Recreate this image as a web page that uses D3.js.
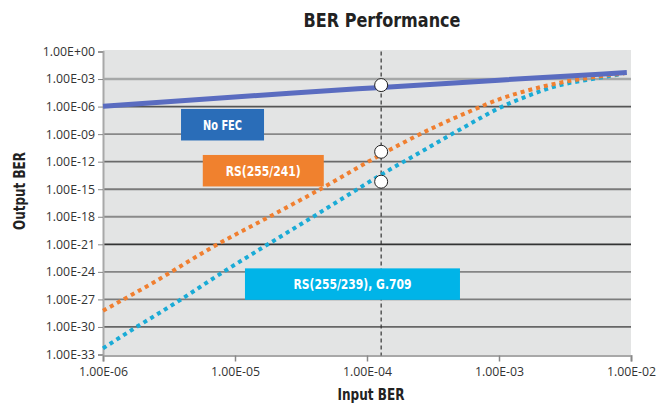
<!DOCTYPE html>
<html>
<head>
<meta charset="utf-8">
<script src="https://d3js.org/d3.v7.min.js"></script>
<style>
  body { margin: 0; background: #fff; }
</style>
</head>
<body>
<div id="chart"></div>
<script>

// ---- data ----
// No FEC (uncoded) curve
var noFecIn  = [1e-6, 2.6e-5, 1.28e-4, 1e-3, 9.3e-3];
var noFecOut = [1.1e-6, 2.9e-5, 1.23e-4, 7.6e-4, 5.1e-3];

// RS(255/241)
var rs241In  = [1e-6, 2.3e-6, 7.2e-6, 1.9e-5, 4.3e-5, 1.1e-4, 1.8e-4, 3.3e-4, 6.1e-4, 1.0e-3, 1.5e-3, 2.9e-3, 4.9e-3, 8.9e-3];
var rs241Out = [5.8e-29, 4.7e-26, 8.3e-22, 1.4e-18, 8.1e-16, 1.8e-12, 8.3e-11, 6.5e-9, 3.3e-7, 6.2e-6, 3.9e-5, 4.0e-4, 1.4e-3, 4.3e-3];

// RS(255/239), G.709
var rs239In  = [1e-6, 1.74e-6, 3.5e-6, 8.6e-6, 1.74e-5, 3.9e-5, 1.4e-4, 2.8e-4, 5.7e-4, 1.03e-3, 1.7e-3, 2.9e-3, 4.6e-3, 8.3e-3];
var rs239Out = [4.7e-33, 7.6e-31, 3.7e-28, 1.6e-24, 8.3e-22, 1.0e-18, 8.1e-14, 2.4e-11, 8.3e-9, 8.3e-7, 1.7e-5, 2.2e-4, 7.9e-4, 3.3e-3];

// operating point marked with the dashed line and circles
var markIn   = 1.28e-4;
var markOuts = [2.2e-4, 1.2e-11, 6.6e-15];

// axis ticks
var xTicks = [1e-6, 1e-5, 1e-4, 1e-3, 1e-2];
var yTicks = [1e0, 1e-3, 1e-6, 1e-9, 1e-12, 1e-15, 1e-18, 1e-21, 1e-24, 1e-27, 1e-30, 1e-33];

// in-chart labels (anchored at top-left corner in data units)
var labelNames = ["No FEC", "RS(255/241)", "RS(255/239), G.709"];
var labelIn    = [3.9e-6, 5.7e-6, 1.19e-5];
var labelOut   = [5.5e-7, 5.4e-12, 2.4e-24];

// ---- layout ----
var W = 656, H = 405;
var margin = {top: 51.5, right: 25, bottom: 50.5, left: 103},
    width = W - margin.left - margin.right,
    height = H - margin.top - margin.bottom;

var condensed = "'DejaVu Sans Condensed', 'DejaVu Sans', sans-serif";
var tickFont = "'Open Sans', 'DejaVu Sans', sans-serif";

var svg0 = d3.select("#chart")
  .append("svg")
    .attr("width", W)
    .attr("height", H);

var svg = svg0.append("g")
    .attr("transform", "translate(" + margin.left + "," + margin.top + ")");

var x = d3.scaleLog().domain([1e-6, 1e-2]).range([0, width]);
var y = d3.scaleLog().domain([1e-33, 1]).range([height, 0]);

function fmtE(v) {
  var e = Math.round(Math.log10(v));
  var s = e < 0 ? "-" : "+";
  var a = Math.abs(e);
  return "1.00E" + s + (a < 10 ? "0" + a : a);
}

// plot background
svg.append("rect")
  .attr("x", 0).attr("y", -1.5)
  .attr("width", width).attr("height", height + 3)
  .attr("fill", "#e3e4e4");

// horizontal grid (shades vary a little in the original)
var gridColor = ["#a6a8a8", "#555", "#888", "#6a6a6a", "#7a7a7a", "#8a8a8a", "#333", "#858585", "#7c7c7c", "#666"];
svg.selectAll(".grid")
  .data(yTicks.filter(function(d) { return d < 1 && d > 1e-33; }))
  .enter().append("line")
    .attr("x1", 0).attr("x2", width)
    .attr("y1", function(d) { return y(d); })
    .attr("y2", function(d) { return y(d); })
    .attr("stroke", function(d, i) { return gridColor[i]; })
    .attr("stroke-width", function(d, i) { return i == 0 ? 2.5 : 1.8; });

// Y axis
var yAxis = svg.append("g")
  .call(d3.axisLeft(y).tickValues(yTicks).tickFormat(fmtE).tickSize(5).tickPadding(3));
yAxis.select(".domain").attr("stroke", "#a8a8a8").attr("stroke-width", 2);
yAxis.selectAll(".tick line").attr("stroke", "#888");
yAxis.selectAll("text")
  .attr("font-family", tickFont).attr("font-size", "12.3px").attr("fill", "#333");

// X axis
var xAxis = svg.append("g")
  .attr("transform", "translate(0," + (height + 1) + ")")
  .call(d3.axisBottom(x).tickValues(xTicks).tickFormat(fmtE).tickSize(6).tickPadding(6));
xAxis.select(".domain").attr("stroke", "#a8a8a8").attr("stroke-width", 2);
xAxis.selectAll(".tick line").attr("stroke", "#888").attr("stroke-width", 1.5);
xAxis.selectAll("text")
  .attr("font-family", tickFont).attr("font-size", "12.3px").attr("fill", "#333");

// dashed marker line
svg.append("line")
  .attr("x1", x(markIn)).attr("x2", x(markIn))
  .attr("y1", 0).attr("y2", height + 1)
  .attr("stroke", "#333")
  .attr("stroke-width", 1.2)
  .attr("stroke-dasharray", "4,3");

var line = d3.line()
  .x(function(d) { return x(d[0]); })
  .y(function(d) { return y(d[1]); })
  .curve(d3.curveMonotoneX);

// RS(255/239) dotted
svg.append("path")
  .datum(d3.zip(rs239In, rs239Out))
  .attr("fill", "none")
  .attr("stroke", "#1aabd6")
  .attr("stroke-width", 4)
  .attr("stroke-dasharray", "4,4")
  .attr("d", line);

// RS(255/241) dotted
svg.append("path")
  .datum(d3.zip(rs241In, rs241Out))
  .attr("fill", "none")
  .attr("stroke", "#f07f30")
  .attr("stroke-width", 4)
  .attr("stroke-dasharray", "4,4")
  .attr("d", line);

// No FEC thick line
svg.append("path")
  .datum(d3.zip(noFecIn, noFecOut))
  .attr("fill", "none")
  .attr("stroke", "#5a6cc0")
  .attr("stroke-width", 5)
  .attr("d", line);

// circles at the operating point
svg.selectAll(".mark")
  .data(markOuts)
  .enter().append("circle")
    .attr("cx", x(markIn))
    .attr("cy", function(d) { return y(d); })
    .attr("r", 6.5)
    .attr("fill", "#fff")
    .attr("stroke", "#222")
    .attr("stroke-width", 1);

// label boxes
var boxW = [83, 121, 215], boxH = 31.5;
var textW = [39, 75, 118];
var boxColor = ["#2a6db8", "#f0812e", "#00b4e8"];
var labels = svg.selectAll(".lab")
  .data(labelNames)
  .enter().append("g")
    .attr("transform", function(d, i) {
      return "translate(" + x(labelIn[i]) + "," + y(labelOut[i]) + ")";
    });
labels.append("rect")
  .attr("width", function(d, i) { return boxW[i]; })
  .attr("height", boxH)
  .attr("fill", function(d, i) { return boxColor[i]; });
labels.append("text")
  .attr("x", function(d, i) { return boxW[i] / 2; })
  .attr("y", boxH / 2)
  .attr("dy", "0.36em")
  .attr("text-anchor", "middle")
  .attr("font-family", condensed)
  .attr("font-weight", "bold")
  .attr("font-size", "14.5px")
  .attr("textLength", function(d, i) { return textW[i]; })
  .attr("lengthAdjust", "spacingAndGlyphs")
  .attr("fill", "#fff")
  .text(function(d) { return d; });

// title
svg0.append("text")
  .attr("x", 382).attr("y", 27)
  .attr("text-anchor", "middle")
  .attr("font-family", condensed)
  .attr("font-weight", "bold")
  .attr("font-size", "20px")
  .attr("textLength", 157)
  .attr("lengthAdjust", "spacingAndGlyphs")
  .attr("fill", "#222")
  .text("BER Performance");

// axis titles
svg0.append("text")
  .attr("transform", "translate(25,191) rotate(-90)")
  .attr("text-anchor", "middle")
  .attr("font-family", condensed)
  .attr("font-weight", "bold")
  .attr("font-size", "16px")
  .attr("textLength", 78)
  .attr("lengthAdjust", "spacingAndGlyphs")
  .attr("fill", "#222")
  .text("Output BER");

svg0.append("text")
  .attr("x", 371).attr("y", 400)
  .attr("text-anchor", "middle")
  .attr("font-family", condensed)
  .attr("font-weight", "bold")
  .attr("font-size", "16px")
  .attr("textLength", 67)
  .attr("lengthAdjust", "spacingAndGlyphs")
  .attr("fill", "#222")
  .text("Input BER");

</script>
</body>
</html>
